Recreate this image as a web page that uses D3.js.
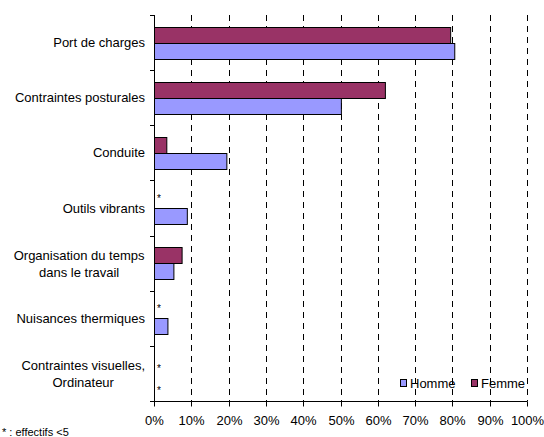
<!DOCTYPE html>
<meta charset="utf-8">
<head>
<style>
body { margin: 0; background: #fff; }
svg text { font-family: Arial, "Liberation Sans", sans-serif; fill: #000; }
.grid line { stroke: #000; stroke-dasharray: 6,5; }
.bar { stroke: #000; stroke-width: 1px; }
</style>
</head>
<body>
<svg></svg>
<script src="https://d3js.org/d3.v7.min.js"></script>
<script>
// data
var categories = [
  ["Port de charges"],
  ["Contraintes posturales"],
  ["Conduite"],
  ["Outils vibrants"],
  ["Organisation du temps", "dans le travail"],
  ["Nuisances thermiques"],
  ["Contraintes visuelles,", "Ordinateur"]
];
var series = ["Femme", "Homme"];
// null = effectifs < 5 (shown as *)
var femme = [79.4, 61.9, 3.3, null, 7.4, null, null];
var homme = [80.5, 50.1, 19.4, 8.8, 5.2, 3.6, null];
var xTicks = [0, 10, 20, 30, 40, 50, 60, 70, 80, 90, 100];
var colors = { Homme: "#9999ff", Femme: "#993366" };
var legendOrder = ["Homme", "Femme"];
var footnote = "* : effectifs <5";

(function () {
var W = 544, H = 437;
var mLeft = 154, mRight = 527, mTop = 15, mBottom = 401;

var svg = d3.select("svg").attr("width", W).attr("height", H);

var keys = categories.map(function (d, i) { return i; });
var x = d3.scaleLinear().domain([0, 100]).range([mLeft, mRight]);
var y = d3.scaleBand().domain(keys).range([mTop, mBottom]).padding(0);
var bw = y.bandwidth();
var y1 = d3.scaleBand().domain(series).range([bw * 0.212, bw * 0.788]).padding(0);

// gridlines
svg.append("g").attr("class", "grid")
  .selectAll("line").data(xTicks.slice(1)).enter().append("line")
  .attr("x1", function (d) { return Math.round(x(d)) + 0.5; })
  .attr("x2", function (d) { return Math.round(x(d)) + 0.5; })
  .attr("y1", mTop).attr("y2", mBottom);

// rows
var rows = keys.map(function (i) {
  return { i: i, Femme: femme[i], Homme: homme[i] };
});

var g = svg.append("g");
rows.forEach(function (r) {
  var bothMissing = r.Femme === null && r.Homme === null;
  series.forEach(function (s) {
    var v = r[s];
    var yy = y(r.i) + y1(s);
    if (v === null) {
      // star centre relative to the bar slot centre
      var off = bothMissing ? (s === "Femme" ? 1 : 7) : -4;
      g.append("text")
        .attr("x", mLeft + 3)
        .attr("y", yy + y1.bandwidth() / 2 + off + 5.5)
        .attr("font-size", 10)
        .text("*");
    } else {
      g.append("rect").attr("class", "bar")
        .attr("x", x(0) + 0.5)
        .attr("y", Math.round(yy) + 0.5)
        .attr("width", x(v) - x(0))
        .attr("height", Math.round(y1.bandwidth()))
        .attr("fill", colors[s]);
    }
  });
});

// y axis
var yAxis = svg.append("g");
yAxis.append("line")
  .attr("x1", mLeft + 0.5).attr("x2", mLeft + 0.5)
  .attr("y1", mTop).attr("y2", mBottom)
  .attr("stroke", "#000");
yAxis.selectAll("line.tk").data(d3.range(categories.length + 1)).enter().append("line")
  .attr("class", "tk")
  .attr("x1", mLeft - 4).attr("x2", mLeft + 0.5)
  .attr("y1", function (d) { return Math.round(mTop + d * bw) + 0.5; })
  .attr("y2", function (d) { return Math.round(mTop + d * bw) + 0.5; })
  .attr("stroke", "#000");

categories.forEach(function (lines, i) {
  var cy = y(i) + bw / 2;
  var lh = 17;
  var t = yAxis.append("text")
    .attr("text-anchor", "middle")
    .attr("font-size", 13);
  var cx = 76;
  lines.forEach(function (l, k) {
    var ty = cy + (k - (lines.length - 1) / 2) * lh + 4.5;
    if (lines.length > 1) {
      t.append("tspan").attr("x", cx).attr("y", ty + 1).text(l);
    } else {
      t.attr("text-anchor", "end").attr("x", mLeft - 9).attr("y", ty).text(l);
    }
  });
  if (lines.length > 1) {
    // widest line ends at the same right edge as the single labels
    var bb = t.node().getBBox();
    var shift = (mLeft - 9) - (bb.x + bb.width);
    t.selectAll("tspan").attr("x", cx + shift);
  }
});

// x axis
var xAxis = svg.append("g")
  .attr("transform", "translate(0," + (mBottom + 0.5) + ")")
  .call(d3.axisBottom(x).tickValues(xTicks).tickSize(5).tickPadding(9)
    .tickFormat(function (d) { return d + "%"; }));
xAxis.select(".domain").attr("stroke", "#000").attr("d", "M" + mLeft + ",0H" + (mRight + 0.5));
xAxis.selectAll(".tick line").attr("stroke", "#000");
xAxis.selectAll(".tick text").attr("font-size", 13)
  .attr("font-family", "Arial, 'Liberation Sans', sans-serif").attr("fill", "#000");
xAxis.selectAll(".tick").attr("transform", function (d) {
  return "translate(" + (Math.round(x(d)) + 0.5) + ",0)";
});

// legend
var lg = svg.append("g");
var legX = [400, 471];
legendOrder.forEach(function (s, k) {
  lg.append("rect")
    .attr("x", legX[k] + 0.5).attr("y", 379.5)
    .attr("width", 6).attr("height", 7)
    .attr("fill", colors[s]).attr("stroke", "#000");
  lg.append("text")
    .attr("x", legX[k] + 10).attr("y", 388)
    .attr("font-size", 13).text(s);
});

// footnote
svg.append("text").attr("x", 2).attr("y", 436)
  .attr("font-size", 11).text(footnote);
})();
</script>
</body>
</html>
